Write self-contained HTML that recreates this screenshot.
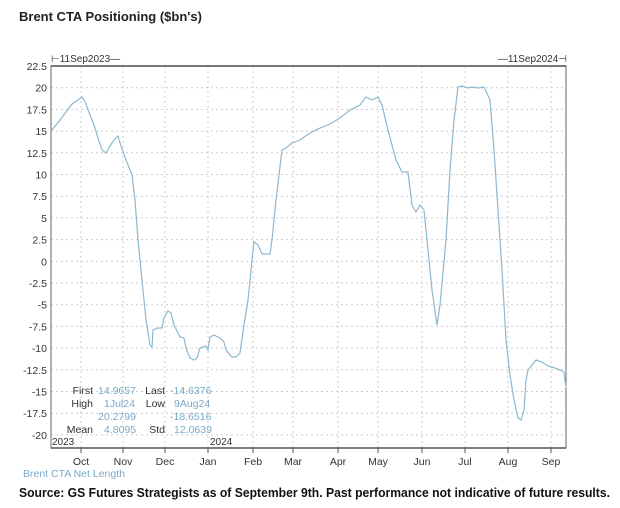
<!DOCTYPE html>
<html><head><style>
body{margin:0;width:620px;height:503px;background:#fff;overflow:hidden;font-family:"Liberation Sans",sans-serif}
</style></head><body>
<svg width="620" height="503" xmlns="http://www.w3.org/2000/svg" font-family="Liberation Sans, sans-serif">
<text x="19" y="21" font-size="13" font-weight="bold" fill="#222">Brent CTA Positioning ($bn's)</text>
<g id="grid" stroke="#ccc" stroke-width="1" stroke-dasharray="2,3">
<line x1="51" x2="566" y1="87.7" y2="87.7"/><line x1="51" x2="566" y1="109.4" y2="109.4"/><line x1="51" x2="566" y1="131.1" y2="131.1"/><line x1="51" x2="566" y1="152.8" y2="152.8"/><line x1="51" x2="566" y1="174.5" y2="174.5"/><line x1="51" x2="566" y1="196.2" y2="196.2"/><line x1="51" x2="566" y1="217.9" y2="217.9"/><line x1="51" x2="566" y1="239.6" y2="239.6"/><line x1="51" x2="566" y1="261.3" y2="261.3"/><line x1="51" x2="566" y1="283" y2="283"/><line x1="51" x2="566" y1="304.7" y2="304.7"/><line x1="51" x2="566" y1="326.4" y2="326.4"/><line x1="51" x2="566" y1="348.1" y2="348.1"/><line x1="51" x2="566" y1="369.8" y2="369.8"/><line x1="51" x2="566" y1="391.5" y2="391.5"/><line x1="51" x2="566" y1="413.2" y2="413.2"/><line x1="51" x2="566" y1="434.9" y2="434.9"/>
<line y1="66" y2="448" x1="81" x2="81"/><line y1="66" y2="448" x1="123" x2="123"/><line y1="66" y2="448" x1="165" x2="165"/><line y1="66" y2="448" x1="208" x2="208"/><line y1="66" y2="448" x1="253" x2="253"/><line y1="66" y2="448" x1="293" x2="293"/><line y1="66" y2="448" x1="338" x2="338"/><line y1="66" y2="448" x1="378" x2="378"/><line y1="66" y2="448" x1="422" x2="422"/><line y1="66" y2="448" x1="465" x2="465"/><line y1="66" y2="448" x1="508" x2="508"/><line y1="66" y2="448" x1="551" x2="551"/>
</g>
<line x1="51" y1="66" x2="566" y2="66" stroke="#888" stroke-width="2"/>
<rect x="51" y="66" width="515" height="382" fill="none" stroke="#666" stroke-width="1"/>
<line x1="51" y1="448" x2="566" y2="448" stroke="#555" stroke-width="1.5"/>
<g stroke="#555" stroke-width="1">
<line x1="81" x2="81" y1="448" y2="453"/><line x1="123" x2="123" y1="448" y2="453"/><line x1="165" x2="165" y1="448" y2="453"/><line x1="208" x2="208" y1="448" y2="453"/><line x1="253" x2="253" y1="448" y2="453"/><line x1="293" x2="293" y1="448" y2="453"/><line x1="338" x2="338" y1="448" y2="453"/><line x1="378" x2="378" y1="448" y2="453"/><line x1="422" x2="422" y1="448" y2="453"/><line x1="465" x2="465" y1="448" y2="453"/><line x1="508" x2="508" y1="448" y2="453"/><line x1="551" x2="551" y1="448" y2="453"/>
</g>
<g font-size="10.5" fill="#333" text-anchor="end">
<text x="47" y="70">22.5</text><text x="47" y="91.7">20</text><text x="47" y="113.4">17.5</text><text x="47" y="135.1">15</text><text x="47" y="156.8">12.5</text><text x="47" y="178.5">10</text><text x="47" y="200.2">7.5</text><text x="47" y="221.9">5</text><text x="47" y="243.6">2.5</text><text x="47" y="265.3">0</text><text x="47" y="287">-2.5</text><text x="47" y="308.7">-5</text><text x="47" y="330.4">-7.5</text><text x="47" y="352.1">-10</text><text x="47" y="373.8">-12.5</text><text x="47" y="395.5">-15</text><text x="47" y="417.2">-17.5</text><text x="47" y="438.9">-20</text>
</g>
<g font-size="10.5" fill="#333" text-anchor="middle">
<text x="81" y="465">Oct</text><text x="123" y="465">Nov</text><text x="165" y="465">Dec</text><text x="208" y="465">Jan</text><text x="253" y="465">Feb</text><text x="293" y="465">Mar</text><text x="338" y="465">Apr</text><text x="378" y="465">May</text><text x="422" y="465">Jun</text><text x="465" y="465">Jul</text><text x="508" y="465">Aug</text><text x="551" y="465">Sep</text>
</g>
<text x="52" y="445" font-size="10" fill="#333">2023</text>
<text x="210" y="445" font-size="10" fill="#333">2024</text>
<text x="51" y="62" font-size="10" fill="#333">⊢11Sep2023—</text>
<text x="567" y="62" font-size="10" fill="#333" text-anchor="end">—11Sep2024⊣</text>
<g font-size="10.5">
<text x="93" y="394" fill="#333" text-anchor="end">First</text><text x="98" y="394" fill="#7aaac8">14.9657</text>
<text x="165" y="394" fill="#333" text-anchor="end">Last</text><text x="170" y="394" fill="#7aaac8">-14.6376</text>
<text x="93" y="407" fill="#333" text-anchor="end">High</text><text x="104" y="407" fill="#7aaac8">1Jul24</text>
<text x="165" y="407" fill="#333" text-anchor="end">Low</text><text x="174" y="407" fill="#7aaac8">9Aug24</text>
<text x="98" y="420" fill="#7aaac8">20.2799</text><text x="170" y="420" fill="#7aaac8">-18.6516</text>
<text x="93" y="433" fill="#333" text-anchor="end">Mean</text><text x="104" y="433" fill="#7aaac8">4.8095</text>
<text x="165" y="433" fill="#333" text-anchor="end">Std</text><text x="174" y="433" fill="#7aaac8">12.0639</text>
</g>
<text x="23" y="477" font-size="10.5" fill="#7aaac8">Brent CTA Net Length</text>
<polyline fill="none" stroke="#8db8d0" stroke-width="1.2" points="51,131 56,125 60,120 66,112 72,104 78,100 82,97 86,104 90,115 94,125 98,138 102,150 106,153 110,146 114,140 118,136 120,143 126,160 132,175 135,200 138,240 142,280 146,320 150,345 152,347 153,330 158,328 162,328 164,318 168,311 171,313 174,325 180,337 184,338 186,348 190,358 194,360 197,358 200,348 206,346 208,350 210,337 214,335 218,337 220,338 224,342 226,350 230,355 232,357 236,357 240,353 244,325 248,300 252,260 254,242 258,245 262,254 270,254 272,240 276,200 282,150 286,148 292,143 300,140 310,133 320,128 330,124 340,118 350,110 360,105 366,97 372,100 378,97 382,105 388,130 396,160 402,172 408,172 412,205 416,212 420,205 424,210 428,250 432,290 437,325 440,305 446,240 450,170 454,120 458,87 462,86 468,88 472,87 478,88 484,87 490,100 494,150 498,210 502,270 506,340 510,375 514,400 518,418 521,420 524,410 526,380 528,370 532,365 536,360 542,362 548,366 555,368 560,370 564,372 566,388"/>
<text x="19" y="497" font-size="12.5" font-weight="bold" fill="#111" textLength="591" lengthAdjust="spacingAndGlyphs">Source: GS Futures Strategists as of September 9th. Past performance not indicative of future results.</text>
</svg>
</body></html>
